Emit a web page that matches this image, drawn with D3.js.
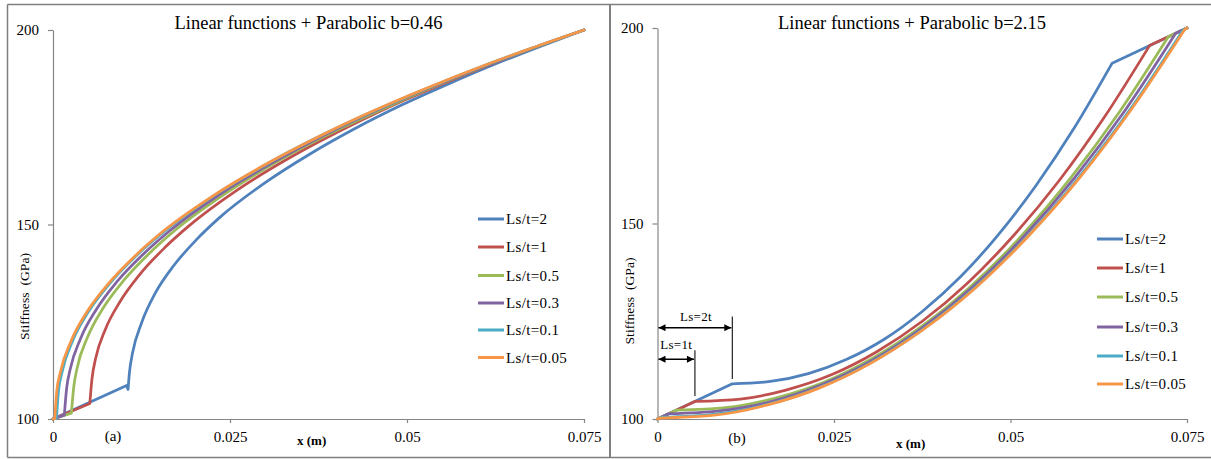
<!DOCTYPE html>
<html>
<head>
<meta charset="utf-8">
<script src="https://cdn.jsdelivr.net/npm/d3@7"></script>
<style>
  html, body { margin: 0; padding: 0; background: #ffffff; }
  svg { display: block; }
  text { font-family: "Liberation Serif", "Times New Roman", serif; fill: #000; }
</style>
</head>
<body>
<svg id="chart" width="1211" height="459"></svg>
<script>
// Series labels shared by both panels
const seriesLabels = ["Ls/t=2", "Ls/t=1", "Ls/t=0.5", "Ls/t=0.3", "Ls/t=0.1", "Ls/t=0.05"];

// Axis ticks
const xTicks = [0, 0.025, 0.05, 0.075];
const xTickLabels = ["0", "0.025", "0.05", "0.075"];
const yTicks = [100, 150, 200];

// Panel (a): linear functions + parabolic b=0.46 — position x (m) and stiffness (GPa)
const xA = [
  [0, 0.0104, 0.0106, 0.0108, 0.01124, 0.01253, 0.01446, 0.01704, 0.02026, 0.02348, 0.02992, 0.03636, 0.0428, 0.04924, 0.05568, 0.06212, 0.06856, 0.075],
  [0, 0.0052, 0.00551, 0.0060, 0.00739, 0.00948, 0.01227, 0.01576, 0.01924, 0.02621, 0.03318, 0.04015, 0.04712, 0.05409, 0.06106, 0.06803, 0.075],
  [0, 0.0026, 0.00292, 0.00342, 0.00487, 0.00704, 0.00993, 0.01355, 0.01716, 0.02439, 0.03162, 0.03885, 0.04608, 0.05331, 0.06054, 0.06777, 0.075],
  [0, 0.0016, 0.00192, 0.00243, 0.0039, 0.0061, 0.00903, 0.0127, 0.01636, 0.02369, 0.03102, 0.03835, 0.04568, 0.05301, 0.06034, 0.06767, 0.075],
  [0, 0.0005, 0.00077, 0.0013, 0.00278, 0.00502, 0.008, 0.01172, 0.01544, 0.02289, 0.03033, 0.03778, 0.04522, 0.05267, 0.06011, 0.06756, 0.075],
  [0, 0.00025, 0.00052, 0.00105, 0.00254, 0.00478, 0.00777, 0.01151, 0.01524, 0.02271, 0.03018, 0.03765, 0.04512, 0.05259, 0.06006, 0.06753, 0.075]
];
const yA = [
  [100, 108.6, 107.6, 112.0, 117.0, 124.8, 132.4, 139.4, 146.1, 151.7, 160.7, 168.2, 174.8, 180.7, 186.0, 191.0, 195.6, 200],
  [100, 104.0, 110.4, 115.4, 123.0, 130.2, 137.2, 144.0, 149.7, 159.1, 166.9, 173.7, 179.9, 185.4, 190.6, 195.5, 200],
  [100, 101.5, 108.1, 113.2, 121.0, 128.4, 135.5, 142.5, 148.4, 158.0, 166.1, 173.1, 179.3, 185.1, 190.4, 195.3, 200],
  [100, 101.0, 107.8, 112.8, 120.7, 128.1, 135.3, 142.3, 148.2, 157.9, 165.9, 173.0, 179.3, 185.0, 190.3, 195.3, 200],
  [100, 100.3, 107.1, 112.2, 120.1, 127.6, 134.8, 141.9, 147.8, 157.6, 165.7, 172.8, 179.1, 184.9, 190.3, 195.3, 200],
  [100, 100.1, 107.0, 112.1, 120.0, 127.5, 134.7, 141.8, 147.8, 157.5, 165.6, 172.7, 179.1, 184.9, 190.3, 195.3, 200]
];
// index where the straight lead-in ends and the smooth part begins
const smoothStartA = [2, 1, 1, 1, 1, 1];

// Panel (b): linear functions + parabolic b=2.15
const xB = [
  [0, 0.0106, 0.01598, 0.02136, 0.02674, 0.03212, 0.0375, 0.04288, 0.04826, 0.05364, 0.05902, 0.0644, 0.075],
  [0, 0.0053, 0.01174, 0.01818, 0.02462, 0.03106, 0.0375, 0.04394, 0.05038, 0.05682, 0.06326, 0.0697, 0.075],
  [0, 0.00265, 0.00962, 0.01659, 0.02356, 0.03053, 0.0375, 0.04447, 0.05144, 0.05841, 0.06538, 0.07235, 0.075],
  [0, 0.0016, 0.00878, 0.01596, 0.02314, 0.03032, 0.0375, 0.04468, 0.05186, 0.05904, 0.06622, 0.0734, 0.075],
  [0, 0.00053, 0.00792, 0.01532, 0.02271, 0.03011, 0.0375, 0.04489, 0.05229, 0.05968, 0.06708, 0.07447, 0.075],
  [0, 0.00027, 0.00772, 0.01516, 0.02261, 0.03005, 0.0375, 0.04495, 0.05239, 0.05984, 0.06728, 0.07473, 0.075]
];
const yB = [
  [100, 109.0, 109.6, 111.6, 115.2, 120.4, 127.5, 136.3, 147.1, 159.8, 174.4, 191.0, 200],
  [100, 104.5, 105.1, 107.4, 111.3, 117.2, 125.0, 134.8, 146.8, 160.8, 177.1, 195.5, 200],
  [100, 102.25, 102.9, 105.3, 109.4, 115.6, 123.8, 134.1, 146.6, 161.4, 178.4, 197.75, 200],
  [100, 101.36, 102.1, 104.4, 108.7, 114.9, 123.3, 133.8, 146.6, 161.6, 178.9, 198.64, 200],
  [100, 100.45, 101.2, 103.6, 107.9, 114.3, 122.8, 133.5, 146.5, 161.8, 179.5, 199.55, 200],
  [100, 100.23, 100.9, 103.4, 107.7, 114.1, 122.7, 133.4, 146.5, 161.8, 179.6, 199.77, 200]
];
// Ls = 1t and Ls = 2t spans marked on panel (b)
const spanValues = [0.0106, 0.0053];
const spanLabels = ["Ls=2t", "Ls=1t"];

// ---- styling ----
const colors = ["#4F81BD", "#C0504D", "#9BBB59", "#8064A2", "#4BACC6", "#F79646"];
const axisColor = "#868686";

const svg = d3.select("#chart");
svg.append("rect").attr("width", 1211).attr("height", 459).attr("fill", "#fff");

// outer frame and divider
const frame = svg.append("g").attr("stroke", "#7f7f7f").attr("fill", "none");
frame.append("line").attr("x1", 7.5).attr("x2", 1211).attr("y1", 4.5).attr("y2", 4.5).attr("stroke-width", 1.5);
frame.append("line").attr("x1", 7.5).attr("x2", 1211).attr("y1", 457.5).attr("y2", 457.5).attr("stroke-width", 1.5);
frame.append("line").attr("x1", 7.5).attr("x2", 7.5).attr("y1", 4.5).attr("y2", 457.5).attr("stroke-width", 1.5);
frame.append("line").attr("x1", 610).attr("x2", 610).attr("y1", 4.5).attr("y2", 457.5).attr("stroke-width", 2);

function seriesPath(xs, ys, s0, s1, sx, sy) {
  const pts = xs.map((x, i) => [sx(x), sy(ys[i])]);
  const straight = d3.line().curve(d3.curveLinear);
  const smooth = d3.line().curve(d3.curveMonotoneX);
  let d = straight(pts.slice(0, s0 + 1));
  d += smooth(pts.slice(s0, s1 + 1)).replace(/^M[^LC]*/, "");
  if (s1 < pts.length - 1) d += straight(pts.slice(s1)).replace(/^M[^L]*/, "");
  return d;
}

function drawPanel(cfg) {
  const g = svg.append("g");
  const x = d3.scaleLinear().domain([0, 0.075]).range([cfg.x0, cfg.x1]);
  const y = d3.scaleLinear().domain([100, 200]).range([419, cfg.yTop]);

  // y axis
  const ya = g.append("g").attr("transform", `translate(${cfg.x0},0)`)
    .call(d3.axisLeft(y).tickValues(yTicks).tickSize(5).tickSizeOuter(0).tickPadding(9).tickFormat(d3.format("d")));
  // x axis
  const xa = g.append("g").attr("transform", "translate(0,419)")
    .call(d3.axisBottom(x).tickValues(xTicks).tickSize(4).tickSizeOuter(0).tickPadding(8.5)
      .tickFormat((d, i) => xTickLabels[i]));
  [ya, xa].forEach(a => {
    a.select(".domain").attr("stroke", axisColor).attr("stroke-width", 1.2);
    a.selectAll(".tick line").attr("stroke", axisColor).attr("stroke-width", 1.2);
    a.selectAll(".tick text").attr("font-family", "Liberation Serif, serif").attr("font-size", 15).attr("fill", "#000");
  });

  // series
  cfg.xs.forEach((xs, i) => {
    const s1 = cfg.smoothEnd(xs);
    g.append("path")
      .attr("d", seriesPath(xs, cfg.ys[i], cfg.smoothStart[i], s1, x, y))
      .attr("fill", "none")
      .attr("stroke", colors[i])
      .attr("stroke-width", 2.75)
      .attr("stroke-linejoin", "round")
      .attr("stroke-linecap", "round");
  });

  // title
  g.append("text").attr("x", cfg.titleX).attr("y", 28.5).attr("text-anchor", "middle")
    .attr("font-size", 18.5).text(cfg.title);

  // y axis title
  g.append("text")
    .attr("transform", `translate(${cfg.yLabelX},${cfg.yLabelY}) rotate(-90)`)
    .attr("text-anchor", "middle").attr("font-size", 13)
    .attr("textLength", 87).attr("lengthAdjust", "spacingAndGlyphs")
    .text("Stiffness\u00a0\u00a0(GPa)");

  // x axis title
  g.append("text").attr("x", cfg.xLabelX).attr("y", cfg.xLabelY)
    .attr("font-size", 13).attr("font-weight", "bold").text("x (m)");

  // panel tag
  g.append("text").attr("x", cfg.tagX).attr("y", cfg.tagY).attr("text-anchor", "middle")
    .attr("font-size", 15).text(cfg.tag);

  // legend
  const lg = g.append("g");
  seriesLabels.forEach((lab, i) => {
    const ly = cfg.legendY[i];
    lg.append("line").attr("x1", cfg.legendX).attr("x2", cfg.legendX + 26)
      .attr("y1", ly).attr("y2", ly).attr("stroke", colors[i]).attr("stroke-width", 3);
    lg.append("text").attr("x", cfg.legendX + 28).attr("y", ly).attr("dy", "0.35em")
      .attr("font-size", 15).attr("letter-spacing", 0.35).text(lab);
  });

  return { x, y, g };
}

drawPanel({
  x0: 53, x1: 584, yTop: 30,
  xs: xA, ys: yA, smoothStart: smoothStartA, smoothEnd: xs => xs.length - 1,
  title: "Linear functions + Parabolic b=0.46", titleX: 308.5,
  yLabelX: 29, yLabelY: 296.5,
  xLabelX: 297, xLabelY: 445,
  tag: "(a)", tagX: 113, tagY: 441,
  legendX: 478, legendY: [219, 247, 275.5, 303, 330, 357.5]
});

const pb = drawPanel({
  x0: 657.5, x1: 1187, yTop: 28,
  xs: xB, ys: yB, smoothStart: xB.map(() => 1), smoothEnd: xs => xs.length - 2,
  title: "Linear functions + Parabolic b=2.15", titleX: 912,
  yLabelX: 634, yLabelY: 301,
  xLabelX: 896, xLabelY: 448,
  tag: "(b)", tagX: 737, tagY: 443,
  legendX: 1097, legendY: [239, 268, 297, 327, 356, 384]
});

// Ls span annotations on panel (b)
const defs = svg.append("defs");
defs.append("marker").attr("id", "arrowHead")
  .attr("viewBox", "0 0 10 10").attr("refX", 10).attr("refY", 5)
  .attr("markerWidth", 9).attr("markerHeight", 7).attr("markerUnits", "userSpaceOnUse")
  .attr("orient", "auto-start-reverse")
  .append("path").attr("d", "M0,0L10,5L0,10Z").attr("fill", "#000");

const spanArrowY = [123.35, 115.3];
const spanTickTop = [126.2, 117.6];
const spanTickBottom = [110.2, 105.9];
const spanTextY = [124.9, 117.6];
const ann = pb.g.append("g");
spanValues.forEach((v, i) => {
  const xr = pb.x(v), x0 = pb.x(0);
  ann.append("line").attr("x1", xr).attr("x2", xr)
    .attr("y1", pb.y(spanTickTop[i])).attr("y2", pb.y(spanTickBottom[i]))
    .attr("stroke", "#222").attr("stroke-width", 1.2);
  ann.append("line").attr("x1", x0 + 1).attr("x2", xr - 1)
    .attr("y1", pb.y(spanArrowY[i])).attr("y2", pb.y(spanArrowY[i]))
    .attr("stroke", "#000").attr("stroke-width", 1.4)
    .attr("marker-start", "url(#arrowHead)").attr("marker-end", "url(#arrowHead)");
  ann.append("text").attr("x", (x0 + xr) / 2 + (i === 0 ? 1 : 0)).attr("y", pb.y(spanTextY[i]) - 1)
    .attr("text-anchor", "middle").attr("font-size", 13).attr("letter-spacing", 0.3).text(spanLabels[i]);
});
</script>
</body>
</html>
